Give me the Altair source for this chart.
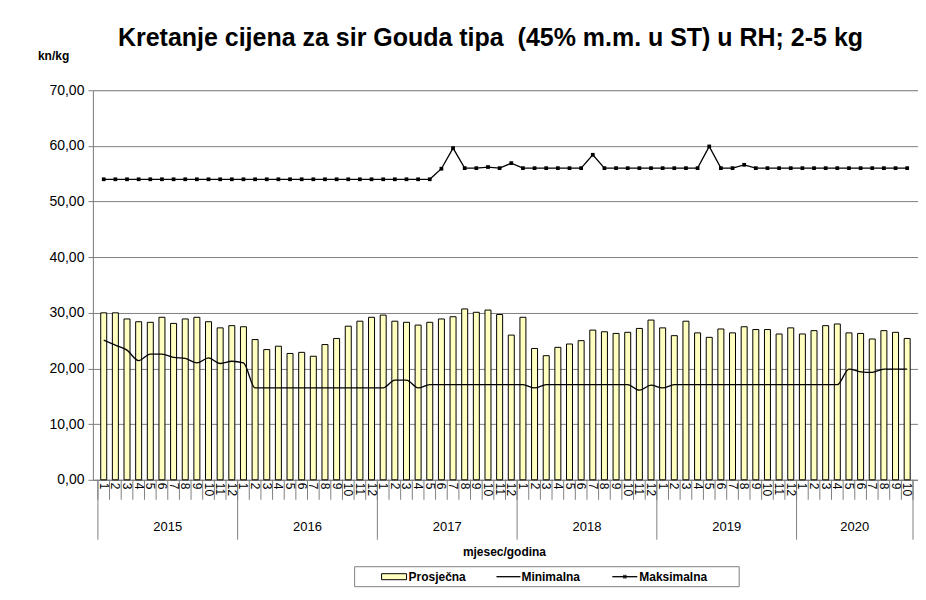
import altair as alt
import pandas as pd

FONT = "Liberation Sans"

years = ["2015", "2016", "2017", "2018", "2019", "2020"]
months_per_year = [12, 12, 12, 12, 12, 10]

prosjecna = [
    30.0, 30.0, 28.9, 28.4, 28.3, 29.2, 28.1, 28.9, 29.2, 28.4, 27.3, 27.7,
    27.5, 25.2, 23.4, 24.0, 22.7, 22.9, 22.2, 24.3, 25.4, 27.6, 28.5, 29.2,
    29.6, 28.5, 28.3, 27.8, 28.3, 28.9, 29.3, 30.7, 30.1, 30.5, 29.7, 26.0,
    29.2, 23.6, 22.3, 23.8, 24.4, 25.0, 26.9, 26.6, 26.3, 26.5, 27.2, 28.7,
    27.3, 25.9, 28.5, 26.4, 25.6, 27.1, 26.4, 27.5, 27.0, 27.0, 26.2, 27.3,
    26.2, 26.8, 27.7, 28.0, 26.4, 26.3, 25.3, 26.8, 26.5, 25.4,
]
minimalna = [
    25.1, 24.2, 23.3, 21.4, 22.6, 22.6, 22.0, 21.8, 21.0, 21.9, 20.9, 21.3,
    21.0, 16.5, 16.5, 16.5, 16.5, 16.5, 16.5, 16.5, 16.5, 16.5, 16.5, 16.5,
    16.5, 17.9, 17.9, 16.5, 17.1, 17.1, 17.1, 17.1, 17.1, 17.1, 17.1, 17.1,
    17.1, 16.5, 17.1, 17.1, 17.1, 17.1, 17.1, 17.1, 17.1, 17.1, 16.1, 17.0,
    16.5, 17.1, 17.1, 17.1, 17.1, 17.1, 17.1, 17.1, 17.1, 17.1, 17.1, 17.1,
    17.1, 17.1, 17.1, 17.1, 19.9, 19.4, 19.3, 19.9, 19.9, 19.9,
]
maksimalna = [
    54.0, 54.0, 54.0, 54.0, 54.0, 54.0, 54.0, 54.0, 54.0, 54.0, 54.0, 54.0,
    54.0, 54.0, 54.0, 54.0, 54.0, 54.0, 54.0, 54.0, 54.0, 54.0, 54.0, 54.0,
    54.0, 54.0, 54.0, 54.0, 54.0, 55.9, 59.6, 56.0, 56.0, 56.2, 56.0, 56.9,
    56.0, 56.0, 56.0, 56.0, 56.0, 56.0, 58.4, 56.0, 56.0, 56.0, 56.0, 56.0,
    56.0, 56.0, 56.0, 56.0, 59.9, 56.0, 56.0, 56.6, 56.0, 56.0, 56.0, 56.0,
    56.0, 56.0, 56.0, 56.0, 56.0, 56.0, 56.0, 56.0, 56.0, 56.0,
]

title_text = "Kretanje cijena za sir Gouda tipa \u00a0(45% m.m. u ST) u RH; 2-5 kg"
unit_text = "kn/kg"
x_title = "mjesec/godina"
series_names = ["Prosječna", "Minimalna", "Maksimalna"]

W, H = 826, 390
N = len(prosjecna)

month_labels = []
for m in months_per_year:
    month_labels += [str(k) for k in range(1, m + 1)]
df = pd.DataFrame({
    "pos": [k + 0.5 for k in range(N)],
    "mjesec": month_labels,
    "Prosječna": prosjecna,
    "Minimalna": minimalna,
    "Maksimalna": maksimalna,
})

bounds = []
s = 0
year_rows = []
for y, m in zip(years, months_per_year):
    year_rows.append({"godina": y, "c": s + m / 2})
    bounds.append(s)
    s += m
bounds.append(s)
df_years = pd.DataFrame(year_rows)
df_mb = pd.DataFrame({"b": list(range(N + 1))})
df_yb = pd.DataFrame({"b": bounds})

xs = alt.Scale(domain=[0, N], nice=False, zero=False)
ys = alt.Scale(domain=[0, 70], nice=False)

x_enc = alt.X("pos:Q", scale=xs,
              axis=alt.Axis(labels=False, ticks=False, grid=False, title=None,
                            domainColor="#7f7f7f"))

bars = alt.Chart(df).mark_bar(size=6, fill="#FFFFC0", stroke="#000000",
                              strokeWidth=1).encode(
    x=x_enc,
    y=alt.Y("Prosječna:Q", scale=ys,
            axis=alt.Axis(values=list(range(0, 71, 10)),
                          labelExpr="replace(format(datum.value, '.2f'), '.', ',')",
                          grid=True, gridColor="#808080", domainColor="#808080",
                          tickColor="#808080", tickSize=5, title=None,
                          labelFont=FONT, labelFontSize=14, labelColor="#000000",
                          labelPadding=4)),
)

min_line = alt.Chart(df).mark_line(color="#000000", strokeWidth=1.3,
                                   interpolate="monotone").encode(
    x=alt.X("pos:Q", scale=xs), y=alt.Y("Minimalna:Q", scale=ys))

max_line = alt.Chart(df).mark_line(
    color="#000000", strokeWidth=1.3,
    point=alt.OverlayMarkDef(shape="square", size=14, filled=True, color="#000000"),
).encode(x=alt.X("pos:Q", scale=xs), y=alt.Y("Maksimalna:Q", scale=ys))

month_text = alt.Chart(df).mark_text(font=FONT, fontSize=12, angle=90,
                                     align="left", baseline="middle",
                                     color="#000000").encode(
    x=alt.X("pos:Q", scale=xs), y=alt.value(H + 3), text="mjesec:N")

month_sep = alt.Chart(df_mb).mark_rule(color="#808080", strokeWidth=1).encode(
    x=alt.X("b:Q", scale=xs), y=alt.value(H), y2=alt.value(H + 20))

year_sep = alt.Chart(df_yb).mark_rule(color="#808080", strokeWidth=1).encode(
    x=alt.X("b:Q", scale=xs), y=alt.value(H), y2=alt.value(H + 60))

year_text = alt.Chart(df_years).mark_text(font=FONT, fontSize=13,
                                          color="#000000").encode(
    x=alt.X("c:Q", scale=xs), y=alt.value(H + 47), text="godina:N")


def label(text, x, y, size, bold=True, align="left"):
    return alt.Chart(pd.DataFrame({"t": [text]})).mark_text(
        font=FONT, fontSize=size, fontWeight="bold" if bold else "normal",
        align=align, baseline="alphabetic", color="#000000").encode(
        x=alt.value(x), y=alt.value(y), text="t:N")


title = label(title_text, 398, -44, 25, align="center")
unit = label(unit_text, -55, -30, 12)
xtitle = label(x_title, 412, H + 76, 12, align="center")

# legend
LY = H + 87
one = pd.DataFrame({"k": [0]})
leg_box = alt.Chart(one).mark_rect(fill="#ffffff", stroke="#808080",
                                   strokeWidth=1).encode(
    x=alt.value(262), x2=alt.value(647), y=alt.value(LY), y2=alt.value(LY + 20))
leg_sw = alt.Chart(one).mark_rect(fill="#FFFFC0", stroke="#000000",
                                  strokeWidth=1).encode(
    x=alt.value(289), x2=alt.value(314), y=alt.value(LY + 7), y2=alt.value(LY + 13))
leg_l1 = alt.Chart(one).mark_rule(color="#000000", strokeWidth=1.3).encode(
    x=alt.value(404), x2=alt.value(428), y=alt.value(LY + 10))
leg_l2 = alt.Chart(one).mark_rule(color="#000000", strokeWidth=1.3).encode(
    x=alt.value(520), x2=alt.value(545), y=alt.value(LY + 10))
leg_pt = alt.Chart(one).mark_point(shape="square", size=14, filled=True,
                                   color="#000000").encode(
    x=alt.value(532.5), y=alt.value(LY + 10))
leg_t1 = label(series_names[0], 316, LY + 14, 12)
leg_t2 = label(series_names[1], 429, LY + 14, 12)
leg_t3 = label(series_names[2], 547, LY + 14, 12)

chart = alt.layer(
    bars, min_line, max_line, month_sep, year_sep, month_text, year_text,
    title, unit, xtitle,
    leg_box, leg_sw, leg_l1, leg_l2, leg_pt, leg_t1, leg_t2, leg_t3,
).properties(
    width=W, height=H,
    autosize=alt.AutoSizeParams(type="none"),
    padding={"left": 85, "top": 82, "right": 0, "bottom": 110},
).configure_view(stroke="#808080", strokeWidth=1).configure(background="#ffffff")

chart.save("out.html", embed_options={"renderer": "svg", "actions": False})
